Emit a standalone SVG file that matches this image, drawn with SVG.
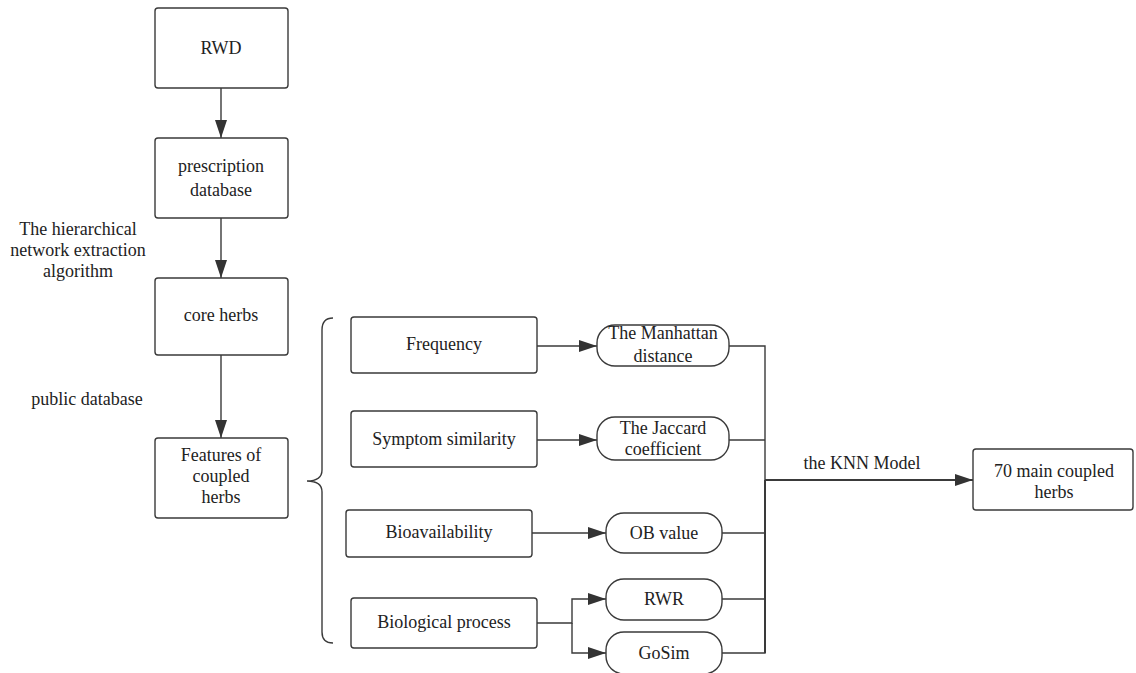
<svg xmlns="http://www.w3.org/2000/svg" width="1136" height="673" viewBox="0 0 1136 673">
<defs>
<marker id="ah" markerWidth="18" markerHeight="12" refX="18" refY="6" orient="auto" markerUnits="userSpaceOnUse">
<path d="M0,0 L18,6 L0,12 Z" fill="#333"/>
</marker>
<style>
.box{fill:#fff;stroke:#3a3a3a;stroke-width:1.4}
.t{font-family:"Liberation Serif","Times New Roman",serif;font-size:18px;fill:#222;text-anchor:middle}
.c{fill:none;stroke:#3a3a3a;stroke-width:1.4}
</style>
</defs>
<rect width="1136" height="673" fill="#fff"/>
<g id="connectors">
<line class="c" x1="221" y1="88" x2="221" y2="138" marker-end="url(#ah)"/>
<line class="c" x1="221" y1="218" x2="221" y2="278" marker-end="url(#ah)"/>
<line class="c" x1="221" y1="355" x2="221" y2="438" marker-end="url(#ah)"/>
<line class="c" x1="537" y1="346" x2="597" y2="346" marker-end="url(#ah)"/>
<line class="c" x1="537" y1="440" x2="597" y2="440" marker-end="url(#ah)"/>
<line class="c" x1="532" y1="533" x2="606" y2="533" marker-end="url(#ah)"/>
<path class="c" d="M537,623 H572 V599 H606" marker-end="url(#ah)"/>
<path class="c" d="M572,623 V653 H606" marker-end="url(#ah)"/>
<path class="c" d="M729,346 H765 V653 H722"/>
<line class="c" x1="729" y1="440" x2="765" y2="440"/>
<line class="c" x1="722" y1="533" x2="765" y2="533"/>
<line class="c" x1="722" y1="599" x2="765" y2="599"/>
<line class="c" x1="765" y1="480" x2="765" y2="653" style="stroke-width:2"/>
<line class="c" x1="765" y1="480" x2="973" y2="480" style="stroke-width:2" marker-end="url(#ah)"/>
<path class="c" d="M333,318 Q322,318 322,330 V470 Q322,481 307,481 Q322,481 322,492 V632 Q322,643 333,643"/>
</g>
<g id="labels">
<text class="t" x="78" y="235">The hierarchical</text>
<text class="t" x="78" y="256">network extraction</text>
<text class="t" x="78" y="277">algorithm</text>
<text class="t" x="87" y="405">public database</text>
<text class="t" x="862" y="469">the KNN Model</text>
</g>
<g id="rwd"><rect class="box" x="155" y="8" width="133" height="80" rx="3"/><text class="t" x="221" y="54">RWD</text></g>
<g id="prescription"><rect class="box" x="155" y="138" width="133" height="80" rx="3"/><text class="t" x="221" y="172">prescription</text><text class="t" x="221" y="196">database</text></g>
<g id="core"><rect class="box" x="155" y="278" width="133" height="77" rx="3"/><text class="t" x="221" y="321">core herbs</text></g>
<g id="features"><rect class="box" x="155" y="438" width="133" height="80" rx="3"/><text class="t" x="221" y="461">Features of</text><text class="t" x="221" y="482">coupled</text><text class="t" x="221" y="503">herbs</text></g>
<g id="frequency"><rect class="box" x="351" y="317" width="186" height="56" rx="3"/><text class="t" x="444" y="350">Frequency</text></g>
<g id="symptom"><rect class="box" x="351" y="411" width="186" height="56" rx="3"/><text class="t" x="444" y="445">Symptom similarity</text></g>
<g id="bioavail"><rect class="box" x="346" y="510" width="186" height="47" rx="3"/><text class="t" x="439" y="538">Bioavailability</text></g>
<g id="bioproc"><rect class="box" x="351" y="598" width="186" height="50" rx="3"/><text class="t" x="444" y="628">Biological process</text></g>
<g id="manhattan"><rect class="box" x="597" y="325" width="132" height="41" rx="18"/><text class="t" x="663" y="339">The Manhattan</text><text class="t" x="663" y="362">distance</text></g>
<g id="jaccard"><rect class="box" x="597" y="417" width="132" height="43" rx="18"/><text class="t" x="663" y="434">The Jaccard</text><text class="t" x="663" y="455">coefficient</text></g>
<g id="ob"><rect class="box" x="606" y="513" width="116" height="40" rx="18"/><text class="t" x="664" y="539">OB value</text></g>
<g id="rwr"><rect class="box" x="606" y="579" width="116" height="41" rx="18"/><text class="t" x="664" y="605">RWR</text></g>
<g id="gosim"><rect class="box" x="606" y="632" width="116" height="42" rx="18"/><text class="t" x="664" y="659">GoSim</text></g>
<g id="result"><rect class="box" x="973" y="449" width="160" height="61" rx="3"/><text class="t" x="1054" y="477">70 main coupled</text><text class="t" x="1054" y="498">herbs</text></g>
</svg>
